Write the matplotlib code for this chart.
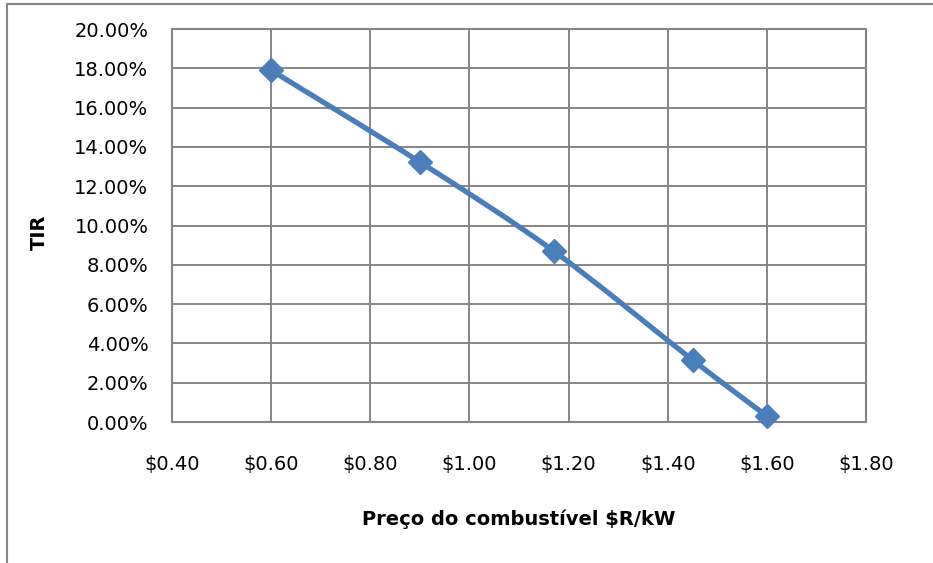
import numpy as np
import matplotlib
matplotlib.use('Agg')
import matplotlib.pyplot as plt
from matplotlib.path import Path
from matplotlib.patches import PathPatch, Rectangle
from matplotlib.ticker import FuncFormatter

plt.rcParams['font.family'] = ['DejaVu Sans']

# dados
preco = [0.60, 0.90, 1.17, 1.45, 1.60]
tir = [0.179, 0.1323, 0.087, 0.0316, 0.003]

x_ticks = [0.4, 0.6, 0.8, 1.0, 1.2, 1.4, 1.6, 1.8]
y_ticks = [0.0, 0.02, 0.04, 0.06, 0.08, 0.10, 0.12, 0.14, 0.16, 0.18, 0.20]

cor = '#4a7ebb'
cinza = '#868686'


def curva_suave(xs, ys):
    '''linha suavizada no estilo do Excel (Bezier cúbica)'''
    p = np.column_stack([xs, ys])
    ext = np.vstack([p[0], p, p[-1]])
    verts = [p[0]]
    codes = [Path.MOVETO]
    for i in range(len(p) - 1):
        a, b, c, d = ext[i], ext[i + 1], ext[i + 2], ext[i + 3]
        c1 = b + (c - a) / 6
        c2 = c - (d - b) / 6
        verts += [c1, c2, c]
        codes += [Path.CURVE4] * 3
    return Path(verts, codes)


fig = plt.figure(figsize=(9.33, 5.63), dpi=100)
ax = fig.add_axes([0.1844, 0.2504, 0.7438, 0.698])

# moldura externa do gráfico
fig.patches.append(Rectangle((7 / 933, -0.1), 1.2, (563 - 4) / 563 + 0.1,
                             transform=fig.transFigure, fill=False,
                             edgecolor=cinza, linewidth=1.5))

ax.add_patch(PathPatch(curva_suave(preco, tir), facecolor='none',
                       edgecolor=cor, linewidth=3.8, capstyle='round', zorder=3))
ax.plot(preco, tir, linestyle='none', marker='D', markersize=12.5,
        color=cor, zorder=4, clip_on=False)

ax.set_xlim(0.4, 1.8)
ax.set_ylim(0, 0.2)
ax.set_xticks(x_ticks)
ax.set_yticks(y_ticks)
ax.xaxis.set_major_formatter(FuncFormatter(lambda v, p: f'${v:.2f}'))
ax.yaxis.set_major_formatter(FuncFormatter(lambda v, p: f'{v * 100:.2f}%'))
ax.tick_params(length=0, labelsize=14)
ax.tick_params(axis='x', pad=24)
ax.tick_params(axis='y', pad=17)

ax.grid(True, color=cinza, linewidth=1.4)
ax.set_axisbelow(True)
for s in ax.spines.values():
    s.set_color(cinza)
    s.set_linewidth(1.5)

ax.set_xlabel('Preço do combustível $R/kW', fontsize=14, fontweight='bold', labelpad=25)
fig.text(39 / 933, 1 - 232 / 563, 'TIR', rotation=90, fontsize=14,
         fontweight='bold', ha='center', va='center')

fig.savefig('out.png', dpi=100)
